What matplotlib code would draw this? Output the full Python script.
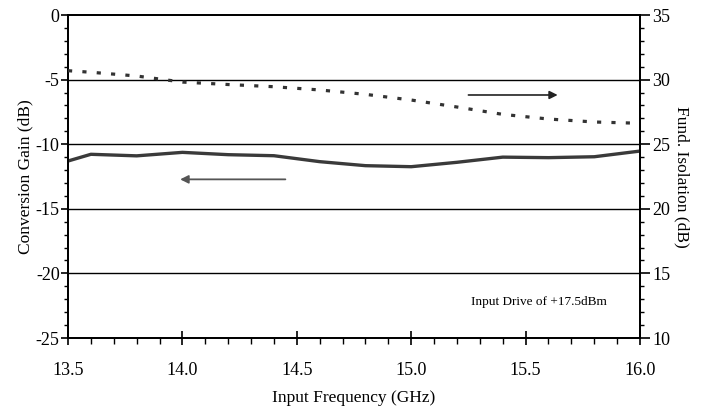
import matplotlib
matplotlib.use("Agg")
import matplotlib.pyplot as plt
from matplotlib.ticker import MultipleLocator

plt.rcParams['font.family'] = ['Liberation Serif', 'DejaVu Serif']
plt.rcParams['axes.unicode_minus'] = False

freq = [13.5, 13.6, 13.8, 14.0, 14.2, 14.4, 14.6, 14.8, 15.0, 15.2, 15.4, 15.6, 15.8, 16.0]
conv_gain = [-11.3, -10.78, -10.9, -10.63, -10.81, -10.89, -11.35, -11.66, -11.74, -11.4, -11.0, -11.04, -10.97, -10.53]
isolation = [30.69, 30.57, 30.28, 29.81, 29.62, 29.45, 29.2, 28.86, 28.42, 27.88, 27.31, 26.95, 26.72, 26.62]

xticks = [13.5, 14.0, 14.5, 15.0, 15.5, 16.0]
xticklabels = ['13.5', '14.0', '14.5', '15.0', '15.5', '16.0']
left_ticks = [-25, -20, -15, -10, -5, 0]
right_ticks = [10, 15, 20, 25, 30, 35]

fig = plt.figure(figsize=(7.02, 4.07), dpi=100)
ax = fig.add_axes([0.0969, 0.1695, 0.8148, 0.7936])
ax2 = ax.twinx()

ax.set_xlim(13.5, 16.0)
ax.set_ylim(-25, 0)
ax2.set_ylim(10, 35)

for y in left_ticks[1:-1]:
    ax.axhline(y, color='black', lw=1.0, zorder=1)

ax.plot(freq, conv_gain, color='#3a3a3a', lw=2.4, solid_joinstyle='round', zorder=3)
ax2.plot(freq, isolation, color='#333333', lw=2.3, linestyle=(0, (1.3, 3.2)), zorder=3)

ax.set_xticks(xticks)
ax.set_xticklabels(xticklabels)
ax.set_yticks(left_ticks)
ax2.set_yticks(right_ticks)
ax.xaxis.set_minor_locator(MultipleLocator(0.1))
ax.yaxis.set_minor_locator(MultipleLocator(1))
ax2.yaxis.set_minor_locator(MultipleLocator(1))

ax.tick_params(axis='x', which='major', direction='inout', length=10, width=1.2, labelsize=13, pad=12)
ax.tick_params(axis='x', which='minor', direction='out', length=4, width=1.0)
ax.tick_params(axis='y', which='major', direction='out', length=5, width=1.2, labelsize=13, pad=1)
ax.tick_params(axis='y', which='minor', direction='out', length=3, width=1.0)
ax2.tick_params(axis='y', which='major', direction='out', length=7, width=1.2, labelsize=13, pad=2)
ax2.tick_params(axis='y', which='minor', direction='out', length=3, width=1.0)

for a in (ax, ax2):
    for s in a.spines.values():
        s.set_linewidth(1.3)
        s.set_color('black')

ax.set_xlabel('Input Frequency (GHz)', fontsize=12.5, labelpad=8)
ax.set_ylabel('Conversion Gain (dB)', fontsize=12.5, labelpad=2)
ax2.set_ylabel('Fund. Isolation (dB)', fontsize=12.5, rotation=270, labelpad=14)

ax.annotate('', xy=(13.99, -12.72), xytext=(14.45, -12.72),
            arrowprops=dict(arrowstyle='-|>', color='#555555', lw=1.3, mutation_scale=12,
                            shrinkA=0, shrinkB=0), zorder=4)
ax.annotate('', xy=(15.64, -6.19), xytext=(15.25, -6.19),
            arrowprops=dict(arrowstyle='-|>', color='#222222', lw=1.2, mutation_scale=12,
                            shrinkA=0, shrinkB=0), zorder=4)

ax.text(15.56, -22.2, 'Input Drive of +17.5dBm', fontsize=9.5, ha='center', va='center')

fig.savefig('out.png', dpi=100)
